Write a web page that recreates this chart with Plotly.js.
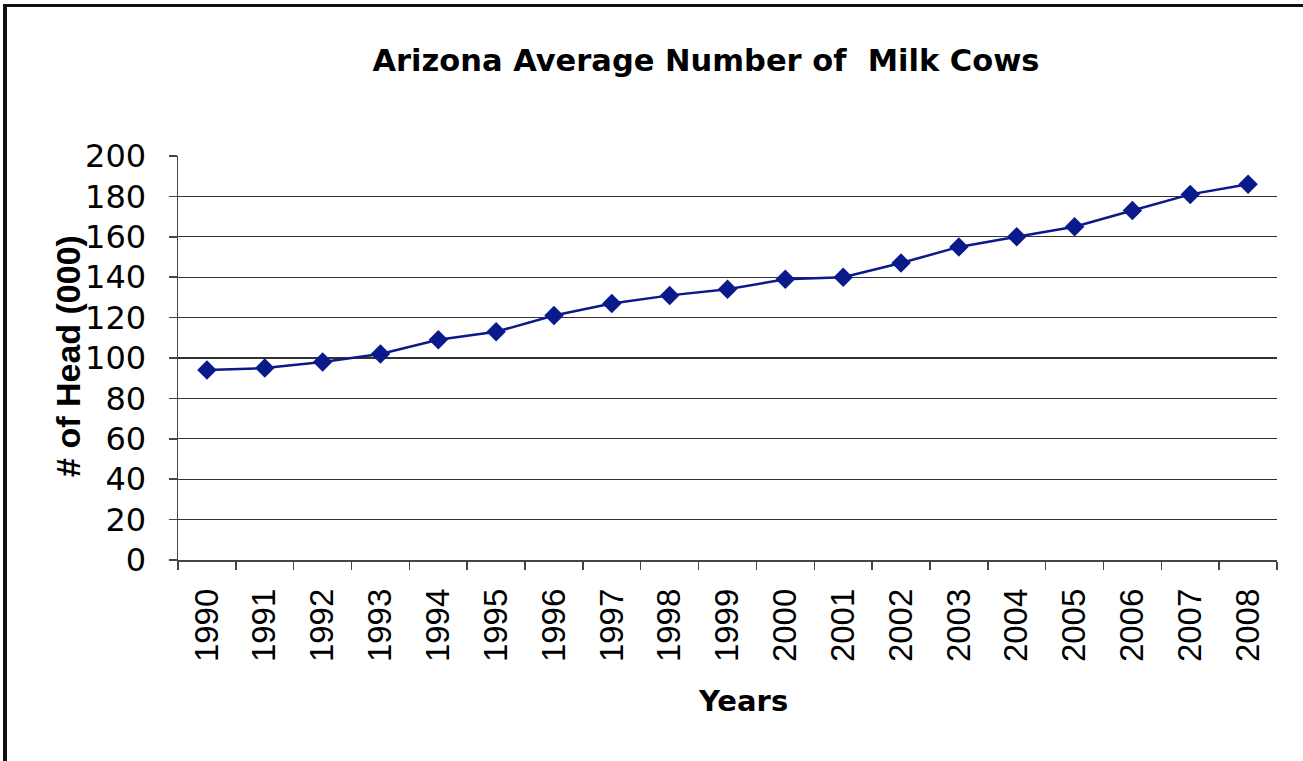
<!DOCTYPE html>
<html>
<head>
<meta charset="utf-8">
<script src="https://cdn.plot.ly/plotly-3.0.1.min.js"></script>
<style>
  html, body { margin: 0; padding: 0; background: #fff; }
  #chart { position: absolute; left: 0; top: 0; width: 1303px; height: 761px; }
  #frame { position: absolute; left: 3px; top: 4px; width: 1400px; height: 800px;
           border-left: 4px solid #111; border-top: 3px solid #111; pointer-events: none; }
</style>
</head>
<body>
<div id="chart"></div>
<div id="frame"></div>
<script>
const years = ['1990','1991','1992','1993','1994','1995','1996','1997','1998','1999',
               '2000','2001','2002','2003','2004','2005','2006','2007','2008'];
const head = [94, 95, 98, 102, 109, 113, 121, 127, 131, 134,
              139, 140, 147, 155, 160, 165, 173, 181, 186];

const chartTitle = 'Arizona Average Number of  Milk Cows';
const xTitle = 'Years';
const yTitle = '# of Head (000)';

const trace = {
  x: years,
  y: head,
  type: 'scatter',
  mode: 'lines+markers',
  line: { color: '#0a1a8a', width: 2.5 },
  marker: { symbol: 'diamond', size: 15, color: '#0a1a8a' },
  hoverinfo: 'x+y'
};

const lib = 'Liberation Sans, Arial, sans-serif';
const dv = 'DejaVu Sans, sans-serif';

const layout = {
  width: 1303,
  height: 761,
  margin: { l: 178, r: 26, t: 156, b: 201 },
  paper_bgcolor: '#ffffff',
  plot_bgcolor: '#ffffff',
  showlegend: false,
  title: {
    text: chartTitle,
    font: { family: dv, size: 30.5, color: '#000', weight: 'bold' },
    xref: 'container', yref: 'container',
    x: 706 / 1303, xanchor: 'center',
    y: 1 - 60 / 761, yanchor: 'middle'
  },
  xaxis: {
    type: 'category',
    range: [-0.5, 18.5],
    tickangle: -90,
    tickfont: { family: lib, size: 33, color: '#000' },
    ticks: 'outside',
    tickson: 'boundaries',
    ticklen: 8,
    tickcolor: '#444',
    tickwidth: 1.5,
    ticklabelstandoff: 14,
    showline: true,
    linecolor: '#444',
    linewidth: 1.5,
    showgrid: false,
    zeroline: false
  },
  yaxis: {
    range: [0, 200],
    dtick: 20,
    tick0: 0,
    tickfont: { family: dv, size: 32, color: '#000' },
    ticks: 'outside',
    ticklen: 8,
    tickcolor: '#444',
    tickwidth: 1.5,
    ticklabelstandoff: 16,
    showline: true,
    linecolor: '#444',
    linewidth: 1.5,
    showgrid: true,
    gridcolor: '#333',
    gridwidth: 1.2,
    zeroline: false
  },
  annotations: [
    { text: xTitle, xref: 'paper', yref: 'paper',
      x: (743 - 178) / 1099, y: (560 - 701) / 404, xanchor: 'center', yanchor: 'middle',
      showarrow: false, font: { family: dv, size: 29, color: '#000', weight: 'bold' } },
    { text: yTitle, xref: 'paper', yref: 'paper', textangle: -90,
      x: (68 - 178) / 1099, y: 0.505, xanchor: 'center', yanchor: 'middle',
      showarrow: false, font: { family: lib, size: 34, color: '#000', weight: 'bold' } }
  ],
  shapes: [
    { type: 'line', xref: 'paper', yref: 'y', x0: 0.002, x1: 1.01, y0: 200, y1: 200,
      line: { color: '#ffffff', width: 3 }, layer: 'above' }
  ]
};

Plotly.newPlot('chart', [trace], layout, { displayModeBar: false, staticPlot: true });
</script>
</body>
</html>
